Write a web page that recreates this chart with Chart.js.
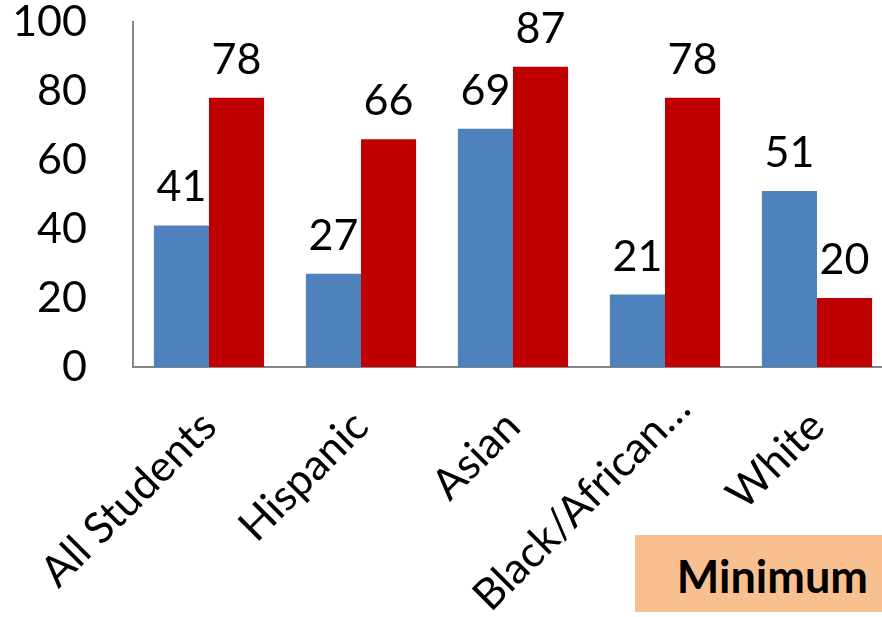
<!DOCTYPE html>
<html>
<head>
<meta charset="utf-8">
<script src="https://cdn.jsdelivr.net/npm/chart.js@4.4.1/dist/chart.umd.min.js"></script>
<style>
html,body{margin:0;padding:0;background:#fff;overflow:hidden;}
#wrap{position:absolute;left:0;top:-50px;width:893px;height:667px;}
#note{position:absolute;left:635px;top:535px;width:247px;height:77px;background:#F9C08F;
font-family:Lato,"Open Sans",sans-serif;font-weight:bold;font-size:45px;color:#000;
display:flex;align-items:center;justify-content:flex-end;padding-right:14px;padding-top:4px;box-sizing:border-box;}
</style>
</head>
<body>
<div id="wrap"><canvas id="c"></canvas></div>
<div id="note">Minimum</div>
<script>
const categories = ["All Students", "Hispanic", "Asian", "Black/African…", "White"];
const seriesBlue = [41, 27, 69, 21, 51];
const seriesRed = [78, 66, 87, 78, 20];
const yTicks = [0, 20, 40, 60, 80, 100];

const FONT = 'Lato, "Open Sans", sans-serif';

const valueLabels = {
  id: 'valueLabels',
  afterDatasetsDraw(chart) {
    const ctx = chart.ctx;
    ctx.save();
    ctx.font = '43px ' + FONT;
    ctx.fillStyle = '#000';
    ctx.textAlign = 'center';
    ctx.textBaseline = 'alphabetic';
    chart.data.datasets.forEach((ds, i) => {
      chart.getDatasetMeta(i).data.forEach((bar, j) => {
        ctx.fillText(String(ds.data[j]), bar.x, bar.y - 24);
      });
    });
    ctx.restore();
  }
};

// truncated (ellipsis) labels sit a little further along their slant, as in the original
const truncatedShift = {
  id: 'truncatedShift',
  beforeDraw(chart) {
    const items = chart.scales.x.getLabelItems(chart.chartArea);
    items.forEach(it => {
      const txt = Array.isArray(it.label) ? it.label.join('') : String(it.label);
      if (txt.endsWith('…')) {
        it.options.translation[0] += 18;
        it.options.translation[1] -= 18;
      }
    });
  }
};

new Chart(document.getElementById('c'), {
  type: 'bar',
  data: {
    labels: categories,
    datasets: [
      { data: seriesBlue, backgroundColor: '#4F81BD' },
      { data: seriesRed, backgroundColor: '#C00000' }
    ]
  },
  options: {
    responsive: true,
    maintainAspectRatio: false,
    animation: false,
    layout: { padding: { top: 22, right: 0, left: 0, bottom: 0 } },
    plugins: { legend: { display: false }, tooltip: { enabled: false } },
    datasets: { bar: { categoryPercentage: 0.725, barPercentage: 1 } },
    scales: {
      x: {
        grid: { display: false, drawTicks: false },
        border: { color: '#868686', width: 2 },
        ticks: {
          color: '#000', font: { family: FONT, size: 43 },
          maxRotation: 45, minRotation: 45, padding: 34, autoSkip: false
        },
        afterFit(s) { s.height = 250; }
      },
      y: {
        min: 0, max: 100,
        afterBuildTicks(s) { s.ticks = yTicks.map(v => ({ value: v })); },
        grid: { display: false, drawTicks: false },
        border: { color: '#868686', width: 2 },
        ticks: { color: '#000', font: { family: FONT, size: 43 }, padding: 46 },
        afterFit(s) { s.width = 133; }
      }
    }
  },
  plugins: [valueLabels, truncatedShift]
});
</script>
</body>
</html>
